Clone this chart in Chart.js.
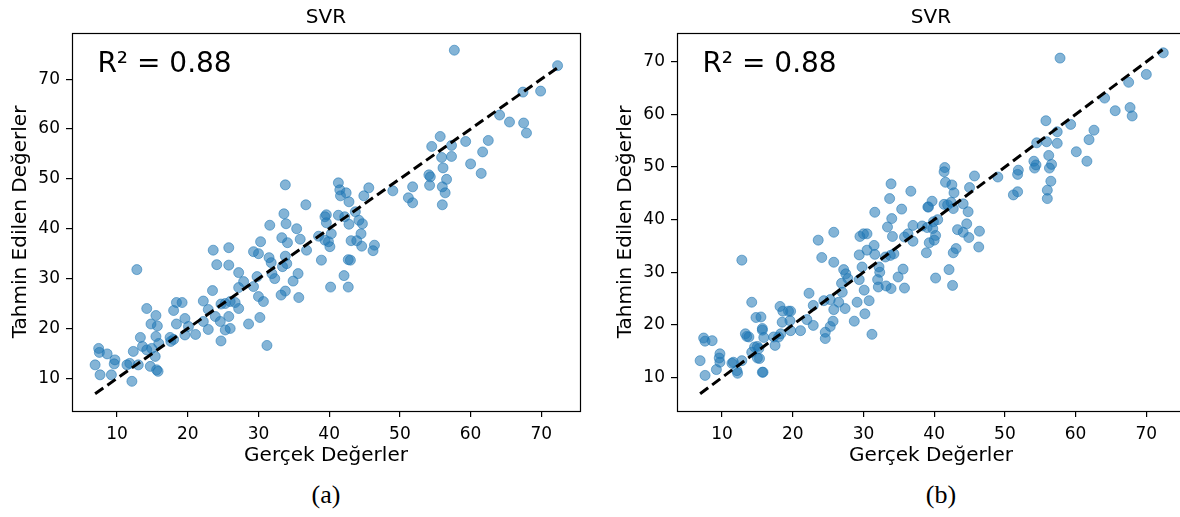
<!DOCTYPE html>
<html><head><meta charset="utf-8">
<script src="https://cdn.jsdelivr.net/npm/chart.js@4.4.0/dist/chart.umd.min.js"></script>
<style>
html,body{margin:0;padding:0;background:#fff;overflow:hidden;width:1180px;height:517px;}
#wrap{position:relative;width:1180px;height:517px;overflow:hidden;background:#fff;}
canvas{position:absolute;top:0;}
.cap{position:absolute;top:480px;height:30px;line-height:30px;font-family:"Liberation Serif","Times New Roman",serif;font-size:26px;color:#000;width:100px;text-align:center;}
</style></head><body>
<div id="wrap">
<canvas id="cA" width="652" height="475" style="left:0px"></canvas>
<canvas id="cB" width="652" height="475" style="left:605px"></canvas>
<div class="cap" style="left:276px">(a)</div>
<div class="cap" style="left:891px">(b)</div>
</div>
<script>
const panelTitles = ['SVR', 'SVR'];
const xAxisLabel = 'Gerçek Değerler';
const yAxisLabel = 'Tahmin Edilen Değerler';
const r2Labels = ['R\u00B2 = 0.88', 'R\u00B2 = 0.88'];
const tickValues = [10, 20, 30, 40, 50, 60, 70];
const refLine = [6.9, 72.3];
const xLimits = [3.63, 75.47];
const yLimitsA = [3.45, 79.25];
const yLimitsB = [3.63, 75.47];

const actualA = [57.7,72.3,67.4,69.9,64.1,65.5,67.5,67.9,55.7,54.5,57.3,59.3,62.5,61.7,55.9,57.3,56.1,60.0,61.5,54.1,54.3,56.6,54.2,56.0,56.4,56.0,51.8,51.2,51.8,49.0,45.6,44.9,41.3,41.5,42.4,41.6,42.8,43.7,39.6,39.4,41.3,42.2,44.2,44.7,42.8,39.6,40.3,44.5,39.4,39.9,40.1,43.1,43.9,44.6,46.4,46.2,38.9,42.7,43.0,42.1,40.2,42.7,33.8,36.7,33.6,31.6,33.9,35.4,
33.3,34.1,35.9,36.8,38.5,30.3,29.3,30.0,31.5,31.8,33.8,34.0,33.4,31.9,32.3,35.6,34.9,33.8,33.2,35.7,29.8,29.3,30.0,30.7,30.2,31.2,27.2,27.9,27.2,26.7,27.2,28.6,25.8,23.6,25.8,24.1,23.5,22.2,22.9,24.7,25.3,26.0,23.9,24.6,25.8,26.0,25.3,24.7,22.9,22.2,21.1,19.6,19.6,18.4,18.0,18.4,19.2,17.5,18.0,17.6,14.2,15.5,14.8,15.7,13.3,13.6,14.2,14.9,15.4,14.7,15.6,15.8,15.5,15.9,12.3,11.4,11.8,13.0,12.1,12.8,9.7,9.6,9.2,8.6,7.4,7.5,6.9,7.6,20.1];
const predictedA = [75.8,72.7,67.4,67.6,62.8,61.4,61.2,59.2,58.5,56.5,56.7,57.5,57.7,55.4,54.3,54.5,52.2,53.0,51.1,50.8,50.4,49.9,48.7,48.4,47.2,44.8,48.4,46.2,45.2,47.6,48.2,46.6,49.2,47.8,47.2,46.6,45.4,43.4,42.8,42.4,42.7,42.4,41.7,41.0,40.9,41.2,39.0,39.0,37.7,37.4,36.4,37.6,37.6,36.5,36.7,35.6,33.7,33.8,33.7,30.6,28.3,28.3,48.8,44.8,43.0,40.7,41.0,40.0,
38.2,37.2,37.9,35.7,38.5,37.4,35.4,35.0,34.2,33.2,34.5,33.0,32.4,31.0,30.0,31.0,29.5,27.5,26.7,26.2,30.4,28.4,26.4,25.4,22.2,16.6,31.2,29.4,28.2,25.2,24.0,20.9,36.2,35.7,32.7,32.8,27.6,25.5,23.8,24.9,25.0,25.4,22.4,21.4,22.4,20.0,19.7,17.5,19.8,21.4,18.8,22.0,18.7,20.9,23.6,25.2,25.2,18.2,17.8,17.4,24.0,22.6,20.9,20.5,18.2,16.4,15.7,16.0,14.4,12.4,11.7,11.4,18.4,17.0,15.4,12.7,13.0,12.7,9.4,31.8,13.7,12.9,10.7,14.9,16.0,15.2,12.7,10.7,20.4];

const actualB = [57.8,72.4,70.0,67.5,64.1,65.6,67.7,68.0,55.8,59.3,62.6,57.4,61.9,54.5,55.9,57.4,60.1,56.2,61.6,54.1,54.4,54.2,56.6,56.3,56.5,56.0,56.0,51.9,51.8,51.8,51.2,49.0,45.7,45.0,41.5,41.4,41.6,42.5,42.8,39.7,39.2,41.4,41.9,42.4,42.7,44.1,44.8,44.6,40.5,39.9,38.3,39.0,39.8,43.3,44.1,46.4,44.9,40.2,39.3,40.0,38.9,42.7,43.1,46.3,42.1,40.2,42.6,33.9,36.7,33.7,31.6,35.4,34.0,33.4,39.1,
12.8,6.9,7.4,7.6,8.6,7.6,9.7,9.6,9.7,9.2,11.4,11.6,12.2,12.1,12.8,13.3,13.5,13.8,14.2,14.8,15.5,15.7,15.7,15.9,14.6,15.0,15.2,14.2,15.0,15.3,15.7,15.8,17.5,17.3,18.0,18.3,19.7,18.2,18.6,19.4,19.7,18.5,19.6,21.1,22.3,22.0,22.9,22.9,23.6,24.1,24.4,24.6,24.6,25.3,25.8,25.3,25.8,25.8,25.7,26.5,27.4,26.9,27.2,27.5,27.0,27.8,28.7,29.4,29.5,30.0,30.5,29.4,30.1,30.8,29.1,30.2,31.2,29.8,30.5,31.5,31.6,32.2,32.3,32.0,32.1,33.1,33.8,34.3,34.1,33.2,33.9,34.9,35.6,35.8,35.8,36.3,37.0,37.0];
const predictedB = [70.7,71.7,67.6,66.1,63.1,60.7,61.3,59.7,58.8,58.1,57.0,56.7,55.2,54.6,54.8,54.5,52.9,52.2,51.1,51.1,50.4,49.8,50.5,49.8,47.3,45.6,44.0,49.4,48.6,45.3,44.7,48.1,48.3,46.1,49.9,49.1,47.1,46.6,45.1,43.5,42.4,42.9,42.8,43.3,42.1,43.0,41.5,39.2,40.0,39.6,38.8,38.5,38.3,38.1,37.6,37.8,36.6,37.0,35.6,36.1,33.7,33.7,34.5,34.8,30.5,28.9,27.5,46.8,45.4,44.0,41.4,42.0,40.2,38.6,42.4,
32.3,13.2,17.5,16.9,17.0,10.4,14.5,13.7,12.9,11.5,12.7,12.9,10.8,11.3,13.2,18.3,17.8,17.7,24.3,21.4,21.5,19.3,19.0,17.6,15.8,15.9,15.5,14.8,13.7,13.6,11.0,11.0,16.1,17.7,17.7,18.3,18.9,23.5,22.6,22.6,22.6,20.5,20.8,18.9,26.0,21.0,19.9,23.7,36.1,32.8,24.6,18.6,17.4,24.8,22.9,19.7,37.6,31.9,20.7,24.3,23.1,27.9,30.5,29.7,26.2,28.8,20.7,33.3,36.8,37.3,37.3,28.6,26.6,24.6,24.3,22.1,18.2,31.0,34.2,35.1,33.4,31.0,30.0,28.6,27.2,32.9,33.2,33.5,36.8,27.4,26.9,29.1,30.6,27.0,36.7,37.3,38.9,35.9];

const FONT = '"DejaVu Sans", sans-serif';
const POINT_COLOR = 'rgba(31,119,180,0.55)';

const frameAndText = {
  id: 'frameAndText',
  afterDraw(chart, args, opts) {
    const {ctx, chartArea: a} = chart;
    ctx.save();
    ctx.strokeStyle = '#000';
    ctx.lineWidth = 1.2;
    ctx.strokeRect(Math.round(a.left) + 0.5, Math.round(a.top) + 0.5, Math.round(a.right - a.left), Math.round(a.bottom - a.top));
    ctx.fillStyle = '#000';
    ctx.font = '28px ' + FONT;
    ctx.textBaseline = 'alphabetic';
    ctx.textAlign = 'left';
    ctx.fillText(opts.text, a.left + 0.05 * (a.right - a.left), a.top + 0.05 * (a.bottom - a.top) + 20.5);
    ctx.restore();
  }
};

function makeChart(id, actual, predicted, yLim, title, r2) {
  const pts = actual.map((v, i) => ({x: v, y: predicted[i]}));
  const line = refLine.map(v => ({x: v, y: v}));
  const setTicks = s => { s.ticks = tickValues.map(v => ({value: v})); };
  const tickFont = {family: FONT, size: 17};
  const titleFont = {family: FONT, size: 20, weight: 'normal'};
  const gridOpts = {display: true, drawOnChartArea: false, drawTicks: true, tickLength: 6, color: '#000', lineWidth: 1.2};
  return new Chart(document.getElementById(id), {
    type: 'scatter',
    data: {datasets: [
      {type: 'line', data: line, showLine: true, borderColor: '#000', borderWidth: 3, borderDash: [10, 5], pointRadius: 0, fill: false, order: 0},
      {data: pts, backgroundColor: POINT_COLOR, borderColor: POINT_COLOR, borderWidth: 1, pointRadius: 5, order: 1}
    ]},
    options: {
      responsive: false, animation: false, devicePixelRatio: 1,
      layout: {padding: 0},
      events: [],
      plugins: {
        legend: {display: false}, tooltip: {enabled: false},
        title: {display: true, text: title, color: '#000', font: titleFont, padding: {top: 6, bottom: 3}},
        frameAndText: {text: r2}
      },
      scales: {
        x: {type: 'linear', position: 'bottom', min: xLimits[0], max: xLimits[1],
          afterBuildTicks: setTicks, afterFit: s => { s.height = 64; },
          ticks: {color: '#000', font: tickFont, padding: 7, includeBounds: false, maxRotation: 0},
          grid: gridOpts, border: {display: false},
          title: {display: true, text: xAxisLabel, color: '#000', font: titleFont, padding: {top: 0, bottom: 7}}},
        y: {type: 'linear', position: 'left', min: yLim[0], max: yLim[1],
          afterBuildTicks: setTicks, afterFit: s => { s.width = 72; },
          ticks: {color: '#000', font: tickFont, padding: 6, includeBounds: false},
          grid: gridOpts, border: {display: false},
          title: {display: true, text: yAxisLabel, color: '#000', font: titleFont, padding: {top: 9, bottom: 0}}},
        y2: {type: 'linear', position: 'right', display: true, afterFit: s => { s.width = 72; },
          ticks: {display: false}, grid: {display: false}, border: {display: false}}
      }
    },
    plugins: [frameAndText]
  });
}

makeChart('cA', actualA, predictedA, yLimitsA, panelTitles[0], r2Labels[0]);
makeChart('cB', actualB, predictedB, yLimitsB, panelTitles[1], r2Labels[1]);
</script>
</body></html>
